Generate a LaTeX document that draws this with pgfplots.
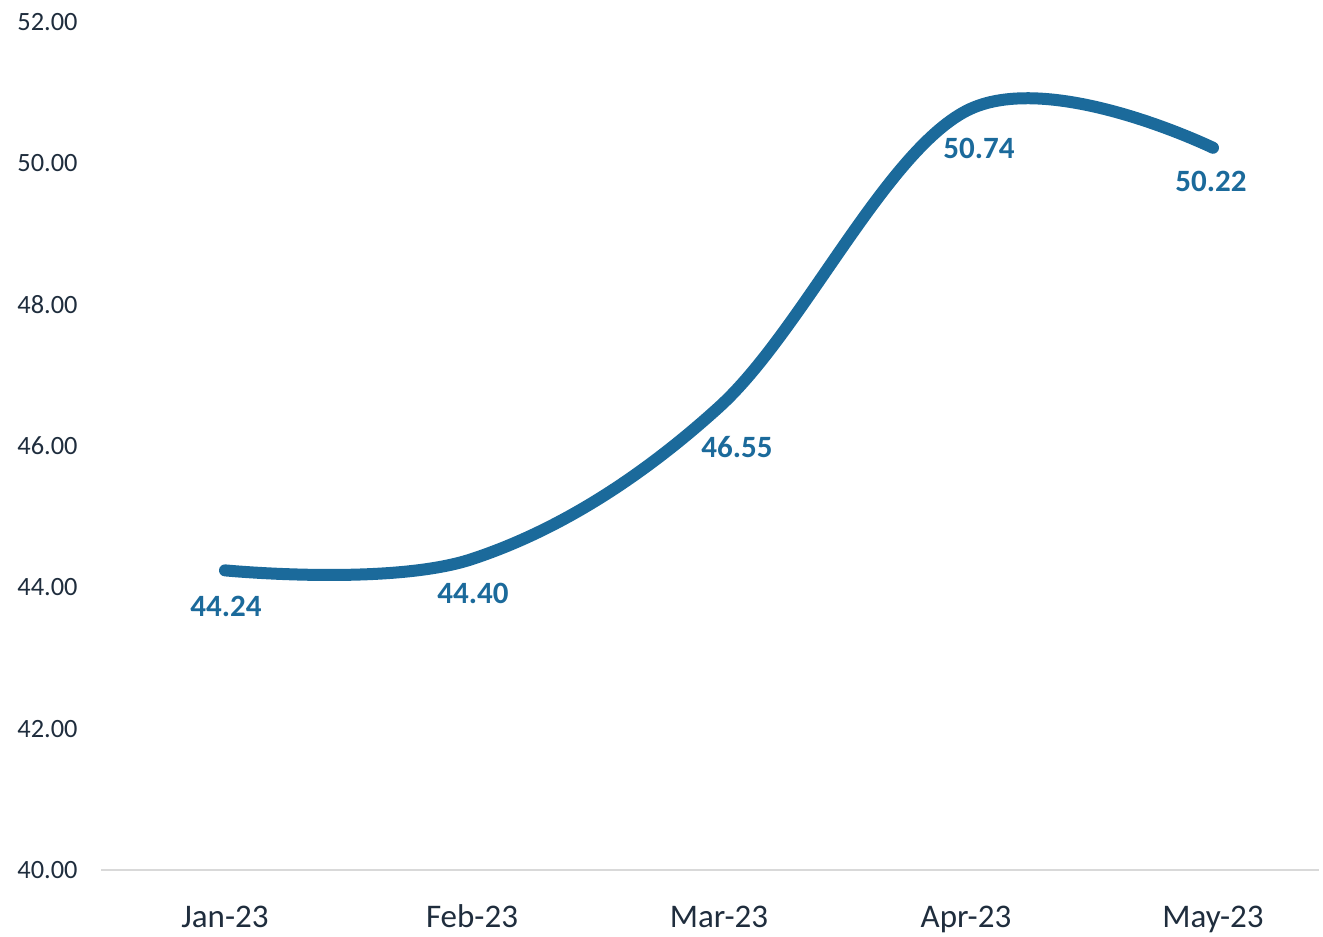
\documentclass[border=0pt]{standalone}
\usepackage{pgfplots}
\pgfplotsset{compat=1.18}
\usepackage{pgfplotstable}
\usepackage{fontspec}
\setmainfont{Carlito}
\definecolor{lineblue}{HTML}{1B6A9B}
\definecolor{ticktext}{HTML}{1F2D3D}
\definecolor{basegray}{HTML}{D9D9D9}
\pgfplotstableread{
x y dx dy
0 44.24 0.5 23
1 44.40 0.5 22
2 46.55 9 25
3 50.74 6.5 23.5
4 50.22 -1 22
}\datatable
\begin{document}
\begin{tikzpicture}
\begin{axis}[
  at={(50.75pt,33.5pt)}, anchor=south west,
  scale only axis, width=608.85pt, height=424pt,
  xmin=-0.5, xmax=4.43, ymin=40, ymax=52,
  xtick={0,1,2,3,4},
  xticklabels={Jan-23,Feb-23,Mar-23,Apr-23,May-23},
  ytick={40,42,44,46,48,50,52},
  axis y line*=left,
  y axis line style={draw=none},
  axis x line*=bottom,
  x axis line style={basegray, line width=1.2pt, -},
  major tick length=0pt,
  clip=false,
  /pgf/number format/assume math mode=true,
  yticklabel={\pgfmathprintnumber[fixed,fixed zerofill,precision=2]{\tick}},
  yticklabel style={anchor=east, inner sep=0pt, xshift=-11.75pt, font=\fontsize{13.2}{15}\selectfont, text=ticktext},
  xticklabel style={anchor=base, inner sep=0pt, yshift=-29pt, font=\fontsize{16.5}{19}\selectfont, text=ticktext},
]
\addplot[lineblue, line width=6pt, line cap=round, smooth, tension=0.6,
  point meta=explicit,
  nodes near coords={\pgfmathprintnumber[fixed,fixed zerofill,precision=2]{\pgfplotspointmeta}},
  visualization depends on={\thisrow{dx} \as \dxv},
  visualization depends on={\thisrow{dy} \as \dyv},
  every node near coord/.append style={anchor=base, inner sep=0pt, xshift=\dxv pt, yshift=-\dyv pt,
    font=\fontsize{15.5}{18}\selectfont\bfseries, text=lineblue},
] table[x=x, y=y, meta=y] {\datatable};
\end{axis}
\pgfresetboundingbox
\path[use as bounding box] (0,0) rectangle (661.5pt,468.5pt);
\end{tikzpicture}
\end{document}
